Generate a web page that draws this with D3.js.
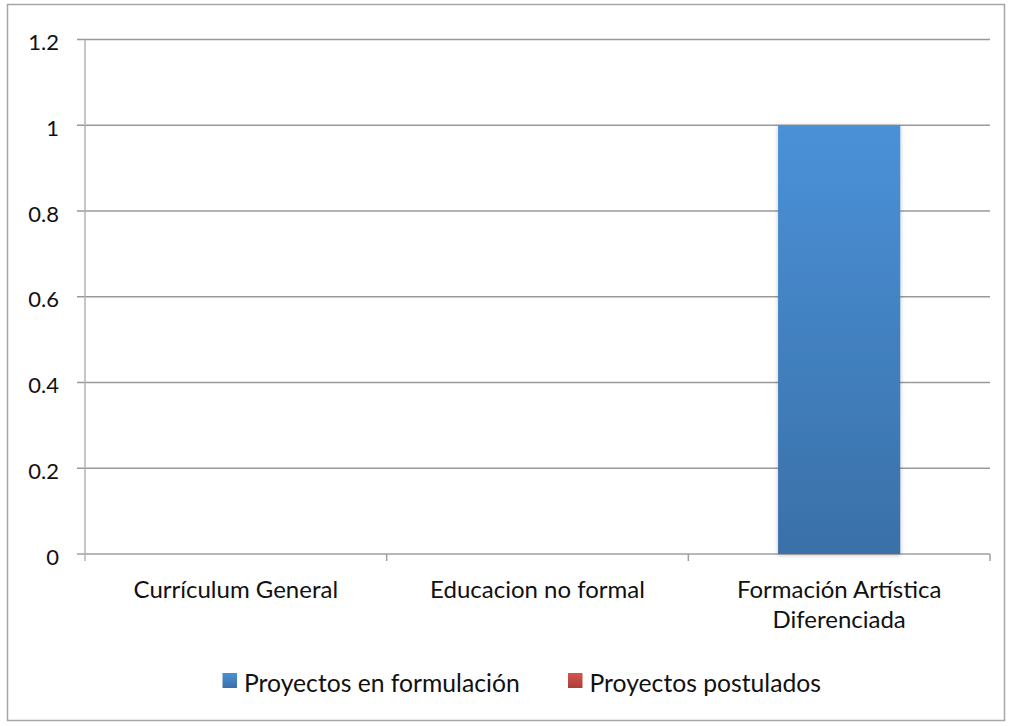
<!DOCTYPE html>
<html>
<head>
<meta charset="utf-8">
<script src="https://cdn.jsdelivr.net/npm/d3@7"></script>
<style>
  html, body { margin: 0; padding: 0; background: #fff; }
  svg { display: block; font-family: Lato, "Open Sans", sans-serif; }
</style>
</head>
<body>
<svg id="chart" width="1013" height="726"></svg>
<script>
// Categories and series values
const categories = ["Currículum General", "Educacion no formal", "Formación Artística Diferenciada"];
const seriesNames = ["Proyectos en formulación", "Proyectos postulados"];
const formulacion = [0, 0, 1];
const postulados = [0, 0, 0];
const yTicks = [0, 0.2, 0.4, 0.6, 0.8, 1, 1.2];

const svg = d3.select("#chart");

// Outer frame
svg.append("rect")
  .attr("x", 7.5).attr("y", 4.5)
  .attr("width", 997).attr("height", 716)
  .attr("fill", "#fff").attr("stroke", "#a6a6a6").attr("stroke-width", 1.5);

const plot = { left: 85, right: 990, top: 39.5, bottom: 554 };

const x = d3.scaleBand().domain(categories).range([plot.left, plot.right]);
const y = d3.scaleLinear().domain([0, 1.2]).range([plot.bottom, plot.top]);

const defs = svg.append("defs");
const gBlue = defs.append("linearGradient").attr("id", "gBlue")
  .attr("x1", 0).attr("y1", 0).attr("x2", 0).attr("y2", 1);
gBlue.append("stop").attr("offset", "0%").attr("stop-color", "#4a91d8");
gBlue.append("stop").attr("offset", "100%").attr("stop-color", "#3a70a8");
const gRed = defs.append("linearGradient").attr("id", "gRed")
  .attr("x1", 0).attr("y1", 0).attr("x2", 0).attr("y2", 1);
gRed.append("stop").attr("offset", "0%").attr("stop-color", "#d9534a");
gRed.append("stop").attr("offset", "100%").attr("stop-color", "#a8403a");
const shadow = defs.append("filter").attr("id", "shadow")
  .attr("x", "-10%").attr("y", "-5%").attr("width", "120%").attr("height", "110%");
shadow.append("feDropShadow").attr("dx", 0).attr("dy", 1).attr("stdDeviation", 2)
  .attr("flood-color", "#000").attr("flood-opacity", 0.25);

// Horizontal gridlines
svg.append("g").selectAll("line").data(yTicks).join("line")
  .attr("x1", plot.left - 8).attr("x2", plot.right)
  .attr("y1", d => y(d)).attr("y2", d => y(d))
  .attr("stroke", d => d === 0 ? "#a0a0a0" : "#999").attr("stroke-width", 1.6);

// Y axis line
svg.append("line")
  .attr("x1", plot.left).attr("x2", plot.left)
  .attr("y1", plot.top).attr("y2", plot.bottom + 7)
  .attr("stroke", "#b3b3b3").attr("stroke-width", 1.5);

// Y tick labels
svg.append("g").selectAll("text").data(yTicks).join("text")
  .attr("x", 59).attr("y", d => y(d) + 10.5)
  .attr("text-anchor", "end")
  .attr("font-size", 22).attr("fill", "#111")
  .text(d => d3.format("~g")(d));

// Category separators on the x axis
const sepX = categories.map(c => x(c)).concat([x.range()[1]]);
svg.append("g").selectAll("line").data(sepX.slice(1)).join("line")
  .attr("x1", d => d).attr("x2", d => d)
  .attr("y1", plot.bottom).attr("y2", plot.bottom + 7)
  .attr("stroke", "#a0a0a0").attr("stroke-width", 1.5);

// Bars (series overlap fully, centred in each category)
const barW = x.bandwidth() * 0.405;
const series = [
  { name: seriesNames[0], values: formulacion, fill: "url(#gBlue)" },
  { name: seriesNames[1], values: postulados, fill: "url(#gRed)" }
];
series.forEach(s => {
  svg.append("g").selectAll("rect")
    .data(categories.map((c, i) => ({ c, v: s.values[i] })).filter(d => d.v > 0))
    .join("rect")
    .attr("x", d => x(d.c) + x.bandwidth() / 2 - barW / 2)
    .attr("y", d => y(d.v))
    .attr("width", barW)
    .attr("height", d => y(0) - y(d.v))
    .attr("fill", s.fill)
    .attr("filter", "url(#shadow)");
});

// Category labels (wrapped)
const labelLines = {
  "Currículum General": ["Currículum General"],
  "Educacion no formal": ["Educacion no formal"],
  "Formación Artística Diferenciada": ["Formación Artística", "Diferenciada"]
};
categories.forEach(c => {
  const cx = x(c) + x.bandwidth() / 2;
  const t = svg.append("text")
    .attr("x", cx)
    .attr("y", 598)
    .attr("text-anchor", "middle")
    .attr("font-size", 24).attr("fill", "#111");
  labelLines[c].forEach((ln, i) => {
    t.append("tspan").attr("x", cx)
      .attr("dy", i === 0 ? 0 : 30).text(ln);
  });
});

// Legend
const legendItems = [
  { name: seriesNames[0], fill: "url(#gBlue)", x: 222.5 },
  { name: seriesNames[1], fill: "url(#gRed)", x: 568 }
];
legendItems.forEach(d => {
  svg.append("rect").attr("x", d.x).attr("y", 673)
    .attr("width", 14.5).attr("height", 15).attr("fill", d.fill);
  svg.append("text").attr("x", d.x + 21.5).attr("y", 692)
    .attr("font-size", 24.7).attr("fill", "#111").text(d.name);
});
</script>
</body>
</html>
